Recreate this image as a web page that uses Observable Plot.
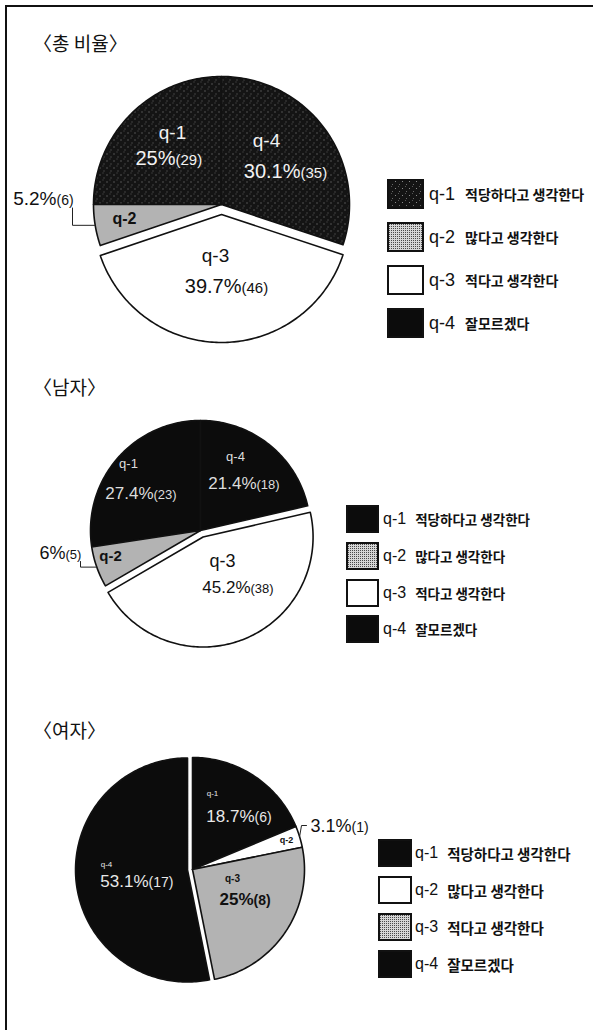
<!DOCTYPE html>
<html>
<head>
<meta charset="utf-8">
<script src="https://cdn.jsdelivr.net/npm/d3@7"></script>
<script src="https://cdn.jsdelivr.net/npm/@observablehq/plot@0.6"></script>
<style>
  html, body { margin: 0; padding: 0; background: #fff; }
  #page { position: relative; width: 593px; height: 1030px; overflow: hidden; background: #fff; }
  .frameL { position: absolute; left: 5px; top: 5px; width: 2px; height: 1030px; background: #111; }
  .frameT { position: absolute; left: 5px; top: 5px; width: 600px; height: 2px; background: #111; }
  .title { position: absolute; font-family: "Noto Sans CJK KR", sans-serif; font-size: 19px; color: #111; line-height: 26px; white-space: nowrap; }
  .chart { position: absolute; left: 0; }
  .row { position: absolute; display: flex; align-items: center; white-space: nowrap; color: #111; }
  .code { font-family: "Liberation Sans", Arial, sans-serif; }
  .kr { font-family: "Noto Sans CJK KR", sans-serif; font-weight: 700; }
</style>
</head>
<body>
<svg width="0" height="0" style="position:absolute">
  <defs>
    <pattern id="stip" width="2" height="2" patternUnits="userSpaceOnUse">
      <rect width="2" height="2" fill="#d6d6d6"></rect>
      <rect width="1" height="1" fill="#4a4a4a"></rect>
    </pattern>
    <pattern id="speck" width="7" height="7" patternUnits="userSpaceOnUse">
      <rect width="7" height="7" fill="#141414"></rect>
      <rect x="1" y="2" width="1" height="1" fill="#8a8a8a"></rect>
      <rect x="5" y="5" width="1" height="1" fill="#6a6a6a"></rect>
      <rect x="4" y="0" width="1" height="1" fill="#555555"></rect>
    </pattern>
  </defs>
</svg>
<div id="page">
  <div class="frameL"></div>
  <div class="frameT"></div>
</div>
<script>
// ---------------- data ----------------
const categories = ["q-1", "q-2", "q-3", "q-4"];
const legendLabels = ["적당하다고 생각한다", "많다고 생각한다", "적다고 생각한다", "잘모르겠다"];
const chartTitles = ["〈총 비율〉", "〈남자〉", "〈여자〉"];

const totalPct = [25, 5.2, 39.7, 30.1];
const totalCount = [29, 6, 46, 35];

const malePct = [27.4, 6, 45.2, 21.4];
const maleCount = [23, 5, 38, 18];

const femalePct = [18.7, 3.1, 25, 53.1];
const femaleCount = [6, 1, 8, 17];

// ---------------- styles / layout ----------------
const SPECK = "url(#speck)", BLACK2 = "#0c0c0c", WHITE = "#ffffff", STIP = "url(#stip)";
const LT = "#f2f2f2", DK = "#111111";

const charts = [
  {
    title: chartTitles[0], pct: totalPct, count: totalCount,
    fills: [SPECK, STIP, WHITE, SPECK], legendFills: [SPECK, STIP, WHITE, BLACK2],
    textFill: [LT, DK, DK, LT],
    dir: -1, top: 60, h: 300, cx: 221, cy: 204, r: 128, explode: [0, 0, 10, 0],
    titleY: 30,
    code: [[-49, -72], [-97, 14], [-6, 51], [45, -64]],
    codeSize: [19, 16, 19, 19], codeWeight: [400, 700, 400, 400],
    joint: [[-46, -47], null, [20, 81], [79, -34]],
    pctSize: 20, cntSize: 15,
    out: {slice: 1, joint: [-165, -6], size: 19, cnt: 14, cornerX: -149},
    legend: {left: 387, w: 37, h: 30, rows: [194, 237, 280, 323], codeSize: 18, codeGap: 5, krSize: 14, krGap: 10}
  },
  {
    title: chartTitles[1], pct: malePct, count: maleCount,
    fills: [BLACK2, STIP, WHITE, BLACK2], legendFills: [BLACK2, STIP, WHITE, BLACK2],
    textFill: ["#dddddd", DK, DK, "#dddddd"],
    dir: -1, top: 410, h: 250, cx: 200, cy: 530, r: 110, explode: [0, 0, 7, 0],
    titleY: 374,
    code: [[-72, -67], [-90, 26], [22, 31], [35, -74]],
    codeSize: [13, 15, 18, 13], codeWeight: [400, 700, 400, 400],
    joint: [[-47, -38], null, [50, 56], [56, -48]],
    pctSize: 17, cntSize: 13,
    out: {slice: 1, joint: [-135, 22], size: 18, cnt: 13, cornerX: -120},
    legend: {left: 346, w: 33, h: 28, rows: [519, 556, 593, 629], codeSize: 16, codeGap: 4, krSize: 13.5, krGap: 9}
  },
  {
    title: chartTitles[2], pct: femalePct, count: femaleCount,
    fills: [BLACK2, WHITE, STIP, BLACK2], legendFills: [BLACK2, WHITE, STIP, BLACK2],
    textFill: ["#e8e8e8", DK, DK, "#e8e8e8"],
    dir: 1, top: 745, h: 250, cx: 192, cy: 869, r: 112, explode: [0, 0, 0, 5],
    titleY: 717,
    code: [[20, -76], [94, -29], [40, 9], [-86, -5]],
    codeSize: [8, 9, 10, 8], codeWeight: [400, 700, 700, 400],
    joint: [[62, -54], null, [61, 29], [-44, 11]],
    pctSize: 17, cntSize: 14, pctWeight: [400, 400, 700, 400],
    out: {slice: 1, joint: [159, -44], size: 18, cnt: 14, cornerX: 109},
    legend: {left: 378, w: 34, h: 28, rows: [853, 890, 927, 964], codeSize: 16, codeGap: 3, krSize: 14.5, krGap: 9}
  }
];

const page = document.getElementById("page");
const W = 380;

function sliceAngles(pcts, dir) {
  const total = d3.sum(pcts);
  let acc = 0;
  return pcts.map((p, i) => {
    const a0 = dir * acc / total * 2 * Math.PI;
    acc += p;
    const a1 = dir * acc / total * 2 * Math.PI;
    return {i, a0, a1, mid: (a0 + a1) / 2};
  });
}

function slicePolygon(s, r, e) {
  const ox = e * Math.sin(s.mid), oy = -e * Math.cos(s.mid);
  const n = Math.max(3, Math.ceil(Math.abs(s.a1 - s.a0) / (Math.PI / 180)));
  const pts = [{slice: s.i, x: ox, y: oy}];
  for (let k = 0; k <= n; k++) {
    const a = s.a0 + (s.a1 - s.a0) * k / n;
    pts.push({slice: s.i, x: ox + r * Math.sin(a), y: oy - r * Math.cos(a)});
  }
  pts.push({slice: s.i, x: ox, y: oy});
  return pts;
}

charts.forEach((c) => {
  // title
  const t = document.createElement("div");
  t.className = "title";
  t.style.left = "33px";
  t.style.top = c.titleY + "px";
  t.textContent = c.title;
  page.appendChild(t);

  const cyLocal = c.cy - c.top;
  const angles = sliceAngles(c.pct, c.dir);
  const marks = [];

  // slices
  angles.forEach((s) => {
    marks.push(Plot.line(slicePolygon(s, c.r, c.explode[s.i]), {
      x: "x", y: "y", fill: c.fills[s.i], stroke: "#111", strokeWidth: 1.6,
      strokeLinejoin: "round", curve: "linear"
    }));
  });

  // category labels inside slices
  categories.forEach((cat, i) => {
    marks.push(Plot.text([{text: cat, x: c.code[i][0], y: c.code[i][1]}], {
      x: "x", y: "y", text: "text", fill: c.textFill[i],
      fontSize: c.codeSize[i], fontWeight: c.codeWeight[i],
      fontFamily: "Liberation Sans", textAnchor: "middle"
    }));
  });

  // percent + count labels inside slices
  categories.forEach((cat, i) => {
    if (!c.joint[i]) return;
    const [jx, jy] = c.joint[i];
    const wt = c.pctWeight ? c.pctWeight[i] : 400;
    marks.push(Plot.text([{x: jx, y: jy + c.pctSize * 0.36, text: c.pct[i] + "%"}], {
      x: "x", y: "y", text: "text", fill: c.textFill[i], fontSize: c.pctSize,
      fontWeight: wt, fontFamily: "Liberation Sans", textAnchor: "end", lineAnchor: "bottom"
    }));
    marks.push(Plot.text([{x: jx, y: jy + c.pctSize * 0.36, text: "(" + c.count[i] + ")"}], {
      x: "x", y: "y", text: "text", fill: c.textFill[i], fontSize: c.cntSize,
      fontWeight: wt, fontFamily: "Liberation Sans", textAnchor: "start", lineAnchor: "bottom"
    }));
  });

  // outside label with leader line
  const o = c.out, si = o.slice, s = angles[si];
  const [ox, oy] = o.joint;
  marks.push(Plot.text([{x: ox, y: oy + o.size * 0.36, text: c.pct[si] + "%"}], {
    x: "x", y: "y", text: "text", fill: DK, fontSize: o.size,
    fontFamily: "Liberation Sans", textAnchor: "end", lineAnchor: "bottom"
  }));
  marks.push(Plot.text([{x: ox, y: oy + o.size * 0.36, text: "(" + c.count[si] + ")"}], {
    x: "x", y: "y", text: "text", fill: DK, fontSize: o.cnt,
    fontFamily: "Liberation Sans", textAnchor: "start", lineAnchor: "bottom"
  }));
  const edge = {x: c.r * Math.sin(s.mid), y: -c.r * Math.cos(s.mid)};
  let leader;
  if (o.cornerX < 0) {
    leader = [{x: o.cornerX, y: oy + o.size * 0.5}, {x: o.cornerX, y: edge.y}, edge];
  } else {
    leader = [edge, {x: o.cornerX, y: oy}, {x: ox - 45, y: oy}];
  }
  marks.push(Plot.line(leader, {x: "x", y: "y", stroke: "#222", strokeWidth: 1, curve: "linear"}));

  const svg = Plot.plot({
    width: W, height: c.h, margin: 0,
    x: {domain: [-c.cx, W - c.cx], range: [0, W], axis: null},
    y: {domain: [-cyLocal, c.h - cyLocal], range: [0, c.h], axis: null},
    style: {background: "transparent", overflow: "visible"},
    marks
  });
  const holder = document.createElement("div");
  holder.className = "chart";
  holder.style.top = c.top + "px";
  holder.appendChild(svg);
  page.appendChild(holder);

  // legend
  const L = c.legend;
  categories.forEach((cat, i) => {
    const row = document.createElement("div");
    row.className = "row";
    row.style.left = L.left + "px";
    row.style.top = (L.rows[i] - L.h / 2) + "px";
    row.style.height = L.h + "px";
    const sw = `<svg width="${L.w}" height="${L.h}" style="display:block"><rect x="1" y="1" width="${L.w - 2}" height="${L.h - 2}" fill="${c.legendFills[i]}" stroke="#111" stroke-width="2"></rect></svg>`;
    row.innerHTML = sw +
      `<span class="code" style="font-size:${L.codeSize}px;margin-left:${L.codeGap}px">${cat}</span>` +
      `<span class="kr" style="font-size:${L.krSize}px;margin-left:${L.krGap}px">${legendLabels[i]}</span>`;
    page.appendChild(row);
  });
});
</script>
</body>
</html>
